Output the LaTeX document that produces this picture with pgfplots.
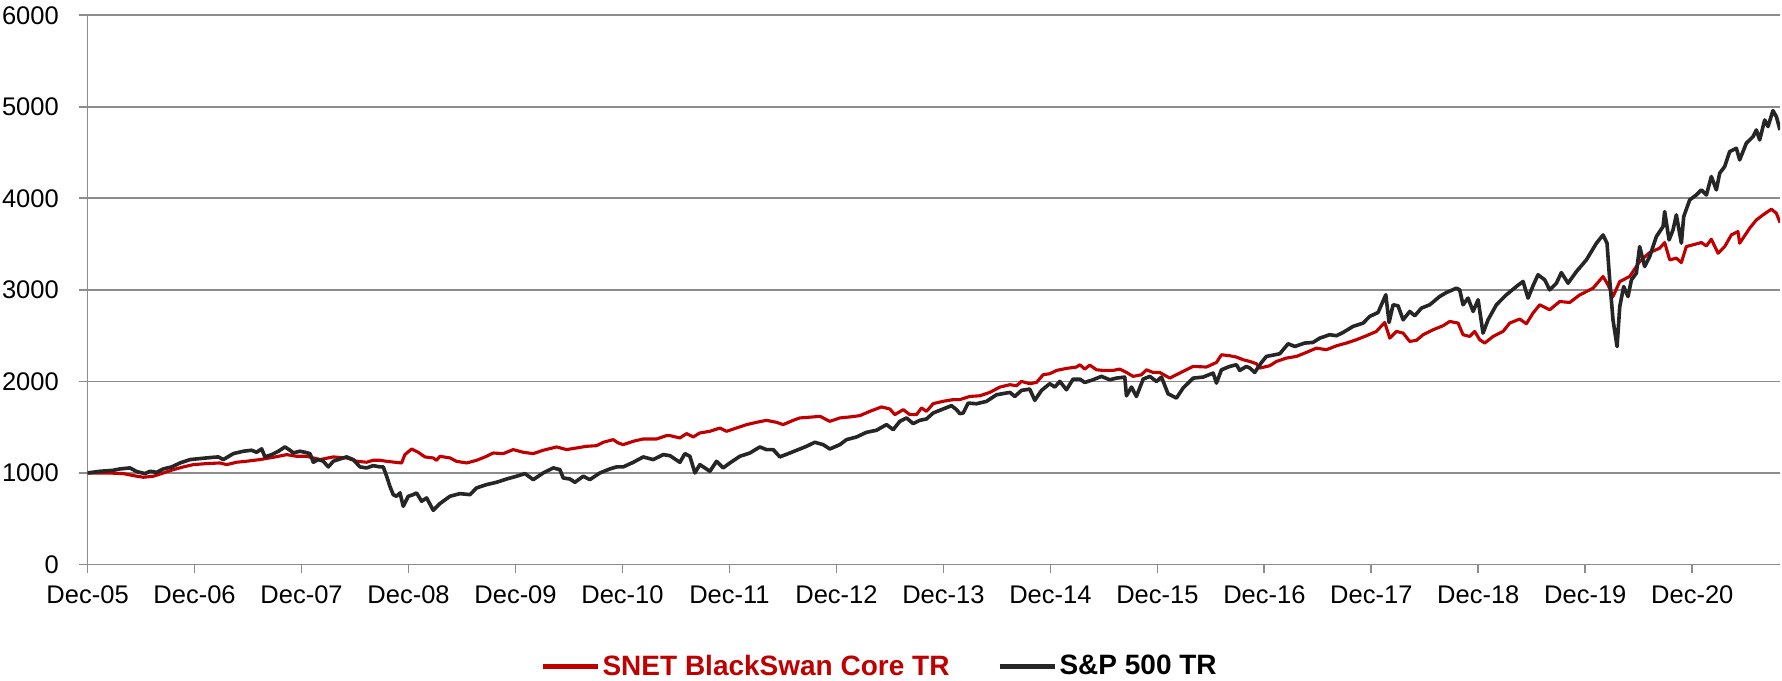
\documentclass[border=0pt]{standalone}
\usepackage{fontspec}
\setmainfont{Liberation Sans}
\usepackage{pgfplots}
\pgfplotsset{compat=1.18}
\usepackage{pgfplotstable}
\definecolor{snetred}{RGB}{192,0,0}
\definecolor{spblack}{RGB}{38,38,38}
\definecolor{gridgray}{RGB}{140,140,140}

\pgfplotstableread{
t v
0 1000
0.178 1000
0.334 993
0.427 971
0.521 953
0.614 964
0.708 1000
0.801 1036
0.895 1066
0.988 1091
1.113 1102
1.237 1109
1.300 1091
1.393 1117
1.487 1128
1.611 1146
1.736 1171
1.860 1200
1.954 1182
2.047 1182
2.110 1164
2.172 1146
2.297 1175
2.421 1164
2.515 1128
2.608 1117
2.670 1139
2.733 1139
2.795 1127
2.935 1109
2.966 1200
3.029 1262
3.091 1226
3.153 1175
3.231 1164
3.262 1138
3.293 1182
3.387 1164
3.449 1127
3.543 1109
3.636 1138
3.730 1182
3.792 1218
3.885 1211
3.979 1255
4.072 1226
4.166 1211
4.259 1248
4.384 1284
4.477 1255
4.571 1273
4.664 1291
4.758 1298
4.820 1335
4.913 1364
4.960 1328
5.007 1309
5.100 1346
5.194 1371
5.318 1371
5.412 1408
5.443 1408
5.537 1382
5.599 1430
5.661 1393
5.723 1437
5.817 1455
5.910 1491
5.973 1455
6.066 1491
6.160 1528
6.253 1553
6.346 1575
6.440 1553
6.502 1528
6.596 1575
6.658 1601
6.783 1612
6.845 1619
6.938 1564
7.032 1601
7.125 1612
7.219 1626
7.312 1673
7.421 1721
7.499 1699
7.546 1637
7.624 1692
7.686 1637
7.748 1637
7.795 1710
7.842 1673
7.904 1757
7.998 1783
8.091 1801
8.153 1801
8.247 1836
8.340 1843
8.434 1880
8.527 1938
8.621 1964
8.683 1953
8.730 2000
8.807 1975
8.870 1989
8.932 2073
8.994 2084
9.057 2120
9.150 2142
9.244 2157
9.275 2182
9.321 2135
9.368 2178
9.431 2127
9.493 2120
9.586 2120
9.649 2135
9.711 2098
9.773 2055
9.851 2073
9.898 2127
9.960 2098
10.022 2098
10.116 2036
10.209 2091
10.334 2164
10.459 2157
10.552 2207
10.599 2291
10.677 2280
10.739 2266
10.801 2237
10.864 2218
10.926 2193
10.957 2146
11.050 2171
11.113 2218
11.206 2255
11.300 2273
11.393 2317
11.487 2364
11.580 2346
11.674 2389
11.767 2419
11.860 2455
11.954 2499
12.047 2546
12.125 2644
12.172 2473
12.234 2546
12.297 2528
12.359 2437
12.421 2448
12.484 2510
12.577 2564
12.670 2608
12.733 2655
12.811 2637
12.857 2510
12.920 2491
12.966 2546
13.013 2455
13.060 2419
13.138 2491
13.231 2546
13.293 2637
13.387 2681
13.449 2630
13.511 2746
13.574 2837
13.667 2782
13.761 2873
13.854 2862
13.948 2945
14.072 3018
14.166 3146
14.212 3055
14.259 2927
14.322 3091
14.415 3146
14.508 3309
14.602 3408
14.695 3455
14.742 3517
14.789 3328
14.851 3346
14.898 3298
14.944 3473
15.038 3502
15.085 3517
15.132 3480
15.178 3553
15.241 3400
15.303 3473
15.365 3600
15.427 3637
15.443 3510
15.536 3673
15.599 3764
15.661 3819
15.739 3881
15.786 3837
15.82 3735
}\snet

\pgfplotstableread{
t v
0 1000
0.116 1018
0.240 1029
0.303 1044
0.396 1055
0.459 1015
0.536 993
0.583 1018
0.646 1007
0.708 1044
0.786 1066
0.864 1109
0.957 1146
1.050 1157
1.175 1171
1.222 1175
1.269 1146
1.362 1211
1.455 1237
1.533 1248
1.580 1226
1.627 1263
1.658 1175
1.720 1200
1.783 1237
1.845 1284
1.892 1248
1.923 1219
1.985 1237
2.032 1226
2.079 1211
2.110 1117
2.156 1146
2.203 1128
2.250 1066
2.297 1128
2.359 1153
2.421 1175
2.483 1146
2.546 1066
2.608 1055
2.670 1080
2.733 1066
2.764 1066
2.795 964
2.826 854
2.857 763
2.888 745
2.920 782
2.951 636
2.997 745
3.044 763
3.075 782
3.122 691
3.169 727
3.231 592
3.293 665
3.387 745
3.480 774
3.574 763
3.636 836
3.730 873
3.823 898
3.917 934
4.010 964
4.088 993
4.166 927
4.259 1000
4.353 1055
4.415 1036
4.446 945
4.508 934
4.555 898
4.633 964
4.695 927
4.789 1000
4.882 1044
4.945 1066
5.007 1066
5.100 1116
5.194 1175
5.287 1146
5.381 1200
5.443 1189
5.537 1116
5.583 1211
5.630 1182
5.677 1000
5.723 1091
5.770 1055
5.817 1018
5.879 1127
5.941 1055
6.004 1109
6.097 1182
6.191 1218
6.284 1284
6.346 1255
6.409 1255
6.471 1175
6.564 1218
6.658 1262
6.720 1291
6.798 1335
6.876 1309
6.938 1262
7.032 1309
7.094 1364
7.188 1393
7.281 1444
7.374 1466
7.468 1528
7.530 1473
7.593 1564
7.655 1601
7.717 1539
7.779 1575
7.842 1590
7.904 1655
7.998 1699
8.075 1735
8.122 1692
8.153 1648
8.184 1654
8.231 1763
8.309 1756
8.403 1782
8.496 1854
8.621 1880
8.667 1836
8.730 1902
8.807 1916
8.854 1793
8.917 1902
8.994 1975
9.041 1938
9.088 2000
9.150 1909
9.212 2025
9.275 2025
9.321 1989
9.399 2018
9.477 2055
9.555 2018
9.617 2036
9.695 2047
9.711 1843
9.758 1938
9.804 1836
9.867 2025
9.929 2055
9.991 2000
10.038 2047
10.100 1865
10.178 1818
10.240 1927
10.334 2036
10.427 2047
10.521 2091
10.552 1982
10.599 2127
10.677 2164
10.739 2182
10.770 2120
10.832 2164
10.864 2146
10.910 2098
10.973 2207
11.019 2273
11.144 2302
11.222 2411
11.284 2382
11.378 2419
11.455 2426
11.518 2473
11.611 2510
11.674 2499
11.736 2535
11.829 2601
11.923 2637
11.985 2710
12.063 2753
12.135 2946
12.166 2644
12.203 2837
12.250 2826
12.297 2673
12.359 2764
12.406 2717
12.468 2801
12.546 2837
12.639 2928
12.702 2971
12.795 3018
12.826 3000
12.857 2837
12.904 2910
12.951 2764
12.998 2892
13.044 2528
13.091 2673
13.169 2837
13.262 2946
13.356 3037
13.418 3092
13.465 2910
13.511 3044
13.558 3165
13.621 3109
13.667 3000
13.730 3073
13.776 3189
13.839 3073
13.917 3200
14.010 3328
14.104 3510
14.166 3600
14.203 3510
14.228 3109
14.259 2672
14.297 2381
14.322 2818
14.359 3036
14.399 2927
14.431 3109
14.477 3182
14.508 3473
14.555 3255
14.602 3364
14.664 3582
14.727 3692
14.742 3855
14.783 3546
14.820 3655
14.851 3819
14.898 3510
14.920 3801
14.976 3983
15.038 4037
15.085 4092
15.132 4037
15.178 4238
15.225 4092
15.256 4274
15.303 4347
15.350 4511
15.412 4547
15.443 4420
15.505 4602
15.568 4674
15.599 4747
15.630 4638
15.677 4856
15.708 4784
15.754 4958
15.786 4893
15.82 4747
}\spx

\begin{document}
\begin{tikzpicture}
\useasboundingbox (0,0) rectangle (712.8pt,272.4pt);
\begin{axis}[
  at={(35.04pt,46.6pt)}, anchor=south west,
  scale only axis,
  width=676.96pt, height=219.7pt,
  xmin=0, xmax=15.82, ymin=0, ymax=6000,
  axis x line*=bottom, axis y line*=left,
  axis line style={draw=gridgray, line width=0.7pt, -},
  xtick={0,1,...,15},
  xticklabels={Dec-05,Dec-06,Dec-07,Dec-08,Dec-09,Dec-10,Dec-11,Dec-12,Dec-13,Dec-14,Dec-15,Dec-16,Dec-17,Dec-18,Dec-19,Dec-20},
  ytick={0,1000,...,6000},
  tick align=outside,
  major tick length=3.5pt,
  tick style={draw=gridgray, line width=0.7pt},
  ymajorgrids,
  grid style={draw=gridgray, line width=0.7pt},
  /pgf/number format/assume math mode=true,
  yticklabel={\pgfmathprintnumber[fixed,1000 sep={}]{\tick}},
  tick label style={font=\fontsize{10.2}{11.5}\selectfont, text=black},
  xticklabel style={yshift=-1.5pt},
  yticklabel style={xshift=-4.5pt},
  legend columns=2,
  legend style={at={(0.468,-0.1866)}, anchor=center, draw=none, fill=none,
    font=\fontsize{11.2}{13}\selectfont\bfseries,
    /tikz/every even column/.append style={column sep=18pt},
    nodes={inner sep=1pt}},
  legend image code/.code={\draw[#1, line width=2pt] (0pt,0pt) -- (22pt,0pt);},
]
\addplot[color=snetred, line width=1.25pt, line join=round] table[x=t,y=v] {\snet};
\addlegendentry{\textcolor{snetred}{SNET BlackSwan Core TR}}
\addplot[color=spblack, line width=1.45pt, line join=round] table[x=t,y=v] {\spx};
\addlegendentry{S\&P 500 TR}
\end{axis}
\end{tikzpicture}
\end{document}
